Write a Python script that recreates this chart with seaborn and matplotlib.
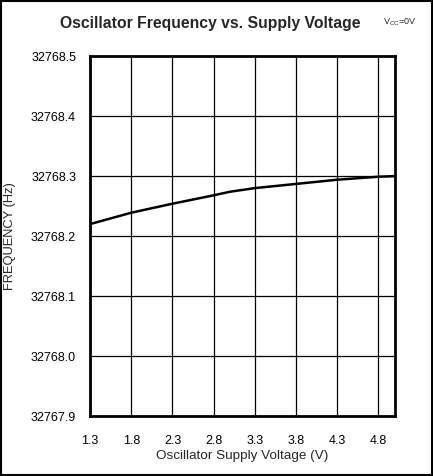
import numpy as np
import pandas as pd
import matplotlib
matplotlib.use("Agg")
import matplotlib.pyplot as plt
import seaborn as sns

# values
voltage = [1.3, 1.8, 2.3, 2.8, 3.0, 3.3, 3.8, 4.3, 4.8, 5.0]
frequency = [32768.220, 32768.239, 32768.254, 32768.268, 32768.274,
             32768.280, 32768.287, 32768.294, 32768.299, 32768.300]
x_ticks = [1.3, 1.8, 2.3, 2.8, 3.3, 3.8, 4.3, 4.8]
y_ticks = [32767.9, 32768.0, 32768.1, 32768.2, 32768.3, 32768.4, 32768.5]

sns.set_style("white")
plt.rcParams['font.family'] = ['Liberation Sans', 'DejaVu Sans']

df = pd.DataFrame({"V": voltage, "F": frequency})

fig = plt.figure(figsize=(4.33, 4.76), dpi=100)
ax = fig.add_axes([0.208, 0.126, 0.704, 0.756])

sns.lineplot(data=df, x="V", y="F", ax=ax, color="black", linewidth=1.8)

ax.set_xlim(1.3, 5.0)
ax.set_ylim(32767.9, 32768.5)
ax.set_xticks(x_ticks)
ax.set_xticklabels([f"{v:.1f}" for v in x_ticks])
ax.set_yticks(y_ticks)
ax.set_yticklabels([f"{v:.1f}" for v in y_ticks])
ax.grid(True, color="black", linewidth=0.9)
ax.tick_params(length=0, labelsize=9, colors="black")
ax.tick_params(axis="y", pad=10)
ax.tick_params(axis="x", pad=14)
for s in ax.spines.values():
    s.set_color("black")
    s.set_linewidth(2)

ax.set_xlabel("Oscillator Supply Voltage (V)", fontsize=9.7, labelpad=2)
ax.set_ylabel("FREQUENCY (Hz)", fontsize=9.3)
ax.yaxis.set_label_coords(-0.243, 0.5)

fig.text(0.485, 0.951, "Oscillator Frequency vs. Supply Voltage",
         ha="center", va="center", fontsize=11.3, fontweight="bold")
fig.text(0.924, 0.953, r"V$_{\mathregular{CC}}$=0V", ha="center", va="center", fontsize=6.5)

# outer frame
fig.patches.append(plt.Rectangle((0.003, 0.003), 0.994, 0.994, transform=fig.transFigure,
                                 fill=False, edgecolor="black", linewidth=1.5))

fig.savefig("out.png", dpi=100)
